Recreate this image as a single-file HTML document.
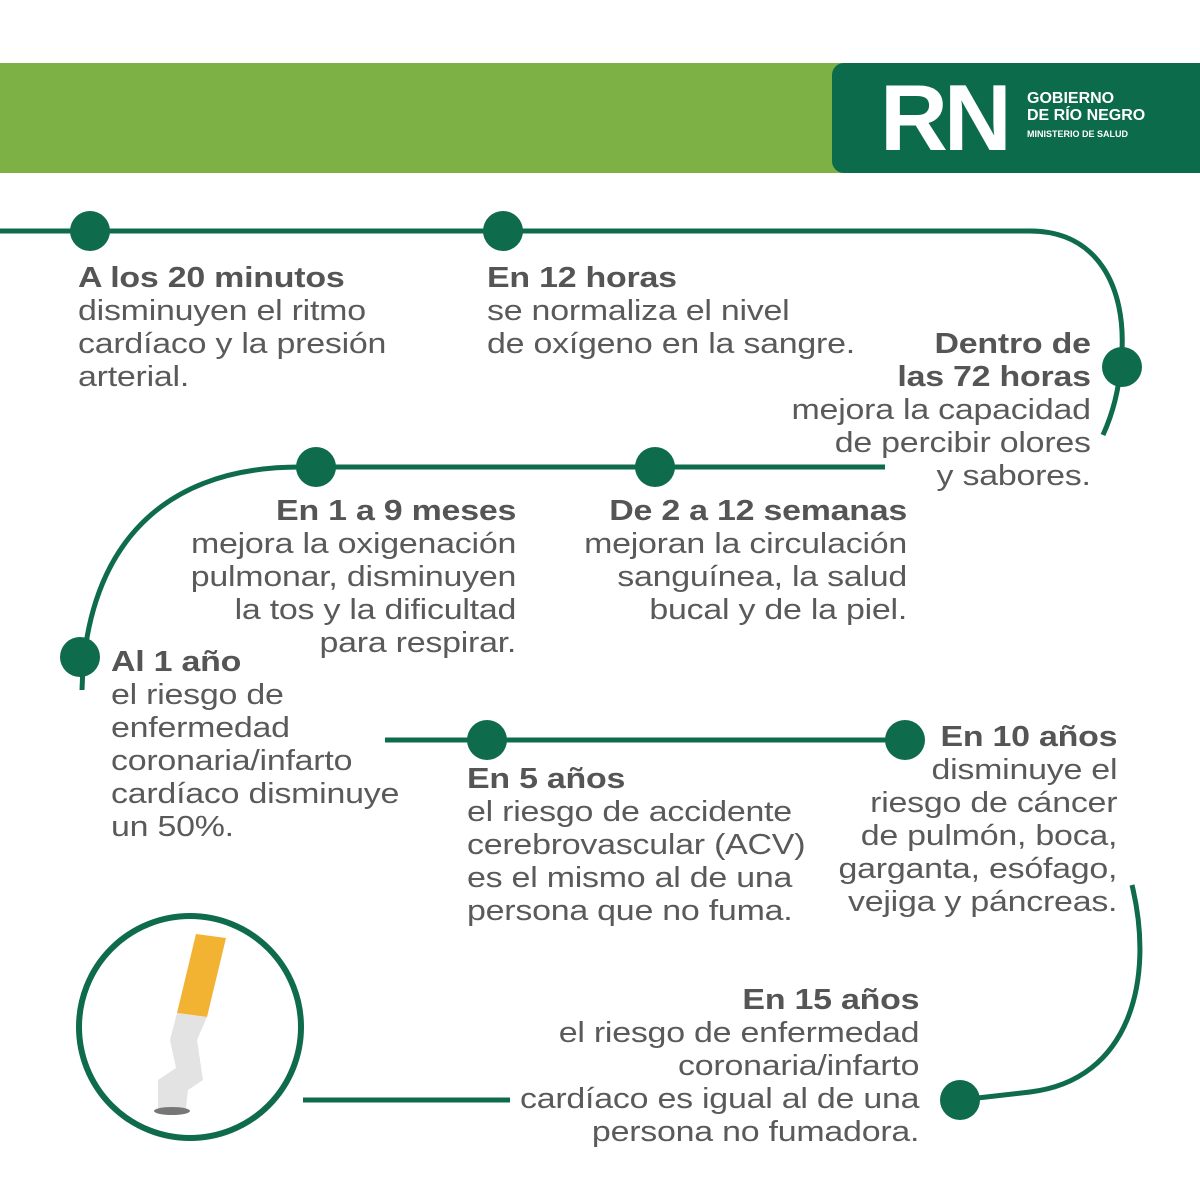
<!DOCTYPE html>
<html><head><meta charset="utf-8"><style>
body{margin:0;width:1200px;height:1200px;background:#fff;position:relative;overflow:hidden;font-family:"Liberation Sans",sans-serif;color:#5a5a5a}
.t{position:absolute;font-size:29px;line-height:33px;letter-spacing:-0.2px;white-space:nowrap;transform:scaleX(1.17);transform-origin:left top}
.t b{color:#555;font-weight:bold}
.r{text-align:right;transform-origin:right top}
</style></head><body>
<div style="position:absolute;left:0;top:63px;width:1200px;height:110px;background:#7db045"></div>
<div style="position:absolute;left:832px;top:63px;width:368px;height:110px;background:#0c6b4a;border-radius:12px 0 0 12px"></div>
<div style="position:absolute;left:880px;top:68px;font-size:94px;font-weight:bold;color:#fff;letter-spacing:-4px;line-height:100px">RN</div>
<div style="position:absolute;left:1027px;top:90px;color:#fff;font-weight:bold;font-size:16px;line-height:17px">GOBIERNO<br>DE RÍO NEGRO<br><span style="font-size:9px">MINISTERIO DE SALUD</span></div>
<svg width="1200" height="1200" style="position:absolute;left:0;top:0">
<g fill="none" stroke="#0e6b4b" stroke-width="5">
<path d="M0 231 H1030 C1100 231 1125 290 1122 350 C1120 390 1112 415 1103 435"/>
<path d="M885 467 H300 C150 467 85 560 82 690"/>
<path d="M385 740 H905"/>
<path d="M1132 885 C1155 980 1130 1080 1030 1092 L960 1100"/>
<path d="M303 1100 H510"/>
<circle cx="190" cy="1027" r="111" stroke-width="6"/>
</g>
<g fill="#0e6b4b">
<circle cx="90" cy="231" r="20"/><circle cx="503" cy="231" r="20"/><circle cx="1122" cy="367" r="20"/>
<circle cx="316" cy="467" r="20"/><circle cx="655" cy="467" r="20"/><circle cx="80" cy="657" r="20"/>
<circle cx="487" cy="740" r="20"/><circle cx="905" cy="740" r="20"/><circle cx="960" cy="1100" r="20"/>
</g>
<polygon points="196,934 226,938 207,1017 177,1013" fill="#f2b232"/>
<path d="M177 1013 L207 1017 L197 1040 L203 1080 L188 1090 L186 1108 L158 1108 L158 1080 L176 1068 L170 1040 Z" fill="#e3e3e3"/>
<ellipse cx="172" cy="1111" rx="18" ry="4" fill="#777"/>
</svg>
<div class="t" style="left:78px;top:262px"><b>A los 20 minutos</b><br>disminuyen el ritmo<br>cardíaco y la presión<br>arterial.</div>
<div class="t" style="left:487px;top:262px"><b>En 12 horas</b><br>se normaliza el nivel<br>de oxígeno en la sangre.</div>
<div class="t r" style="right:109px;top:328px"><b>Dentro de<br>las 72 horas</b><br>mejora la capacidad<br>de percibir olores<br>y sabores.</div>
<div class="t r" style="right:684px;top:495px"><b>En 1 a 9 meses</b><br>mejora la oxigenación<br>pulmonar, disminuyen<br>la tos y la dificultad<br>para respirar.</div>
<div class="t r" style="right:293px;top:495px"><b>De 2 a 12 semanas</b><br>mejoran la circulación<br>sanguínea, la salud<br>bucal y de la piel.</div>
<div class="t" style="left:111px;top:646px"><b>Al 1 año</b><br>el riesgo de<br>enfermedad<br>coronaria/infarto<br>cardíaco disminuye<br>un 50%.</div>
<div class="t" style="left:467px;top:763px"><b>En 5 años</b><br>el riesgo de accidente<br>cerebrovascular (ACV)<br>es el mismo al de una<br>persona que no fuma.</div>
<div class="t r" style="right:83px;top:721px"><b>En 10 años</b><br>disminuye el<br>riesgo de cáncer<br>de pulmón, boca,<br>garganta, esófago,<br>vejiga y páncreas.</div>
<div class="t r" style="right:281px;top:984px"><b>En 15 años</b><br>el riesgo de enfermedad<br>coronaria/infarto<br>cardíaco es igual al de una<br>persona no fumadora.</div>
</body></html>
